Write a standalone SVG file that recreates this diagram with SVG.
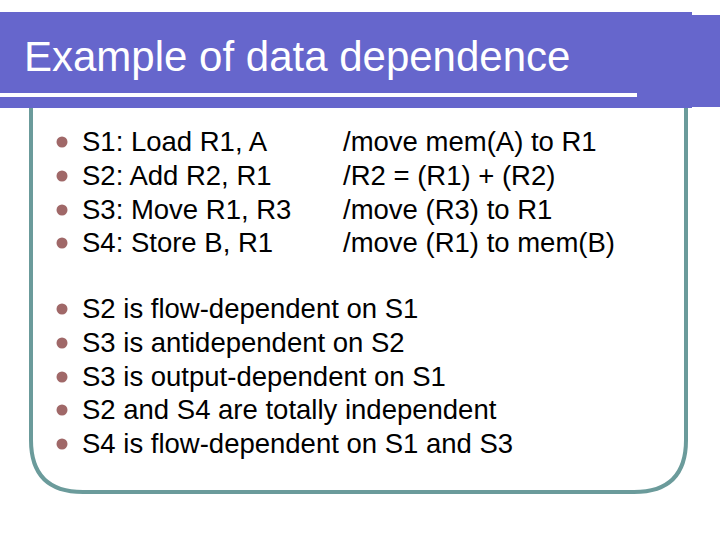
<svg xmlns="http://www.w3.org/2000/svg" width="720" height="540" viewBox="0 0 720 540">
<style>
text{font-family:"Liberation Sans",Arial,sans-serif;}
.t{font-size:27.5px;fill:#000;}
.b{fill:#a06868;}
</style>
<rect width="720" height="540" fill="#fff"/>
<g id="frame"><path d="M31,100 V440 Q31,492 83,492 H634 Q686,492 686,440 V100" fill="none" stroke="#6b9b9b" stroke-width="4"/></g>
<g id="titlebar">
<rect x="0" y="12" width="692" height="96" fill="#6666cc"/>
<rect x="692" y="15" width="28" height="92" fill="#6666cc"/>
<rect x="0" y="93" width="637" height="4" fill="#fff"/>
<text x="24" y="71" font-size="42" fill="#fff">Example of data dependence</text>
</g>
<g id="code">
<circle class="b" cx="62" cy="142" r="5.5"/><circle class="b" cx="62" cy="176" r="5.5"/><circle class="b" cx="62" cy="210" r="5.5"/><circle class="b" cx="62" cy="243" r="5.5"/>
<text class="t" x="82" y="151">S1: Load R1, A</text>
<text class="t" x="82" y="185">S2: Add R2, R1</text>
<text class="t" x="82" y="219">S3: Move R1, R3</text>
<text class="t" x="82" y="252">S4: Store B, R1</text>
<text class="t" x="343" y="151">/move mem(A) to R1</text>
<text class="t" x="343" y="185">/R2 = (R1) + (R2)</text>
<text class="t" x="343" y="219">/move (R3) to R1</text>
<text class="t" x="343" y="252">/move (R1) to mem(B)</text>
</g>
<g id="deps">
<circle class="b" cx="62" cy="309" r="5.5"/><circle class="b" cx="62" cy="343" r="5.5"/><circle class="b" cx="62" cy="377" r="5.5"/><circle class="b" cx="62" cy="410" r="5.5"/><circle class="b" cx="62" cy="444" r="5.5"/>
<text class="t" x="82" y="318">S2 is flow-dependent on S1</text>
<text class="t" x="82" y="352">S3 is antidependent on S2</text>
<text class="t" x="82" y="386">S3 is output-dependent on S1</text>
<text class="t" x="82" y="419">S2 and S4 are totally independent</text>
<text class="t" x="82" y="453">S4 is flow-dependent on S1 and S3</text>
</g>
</svg>
